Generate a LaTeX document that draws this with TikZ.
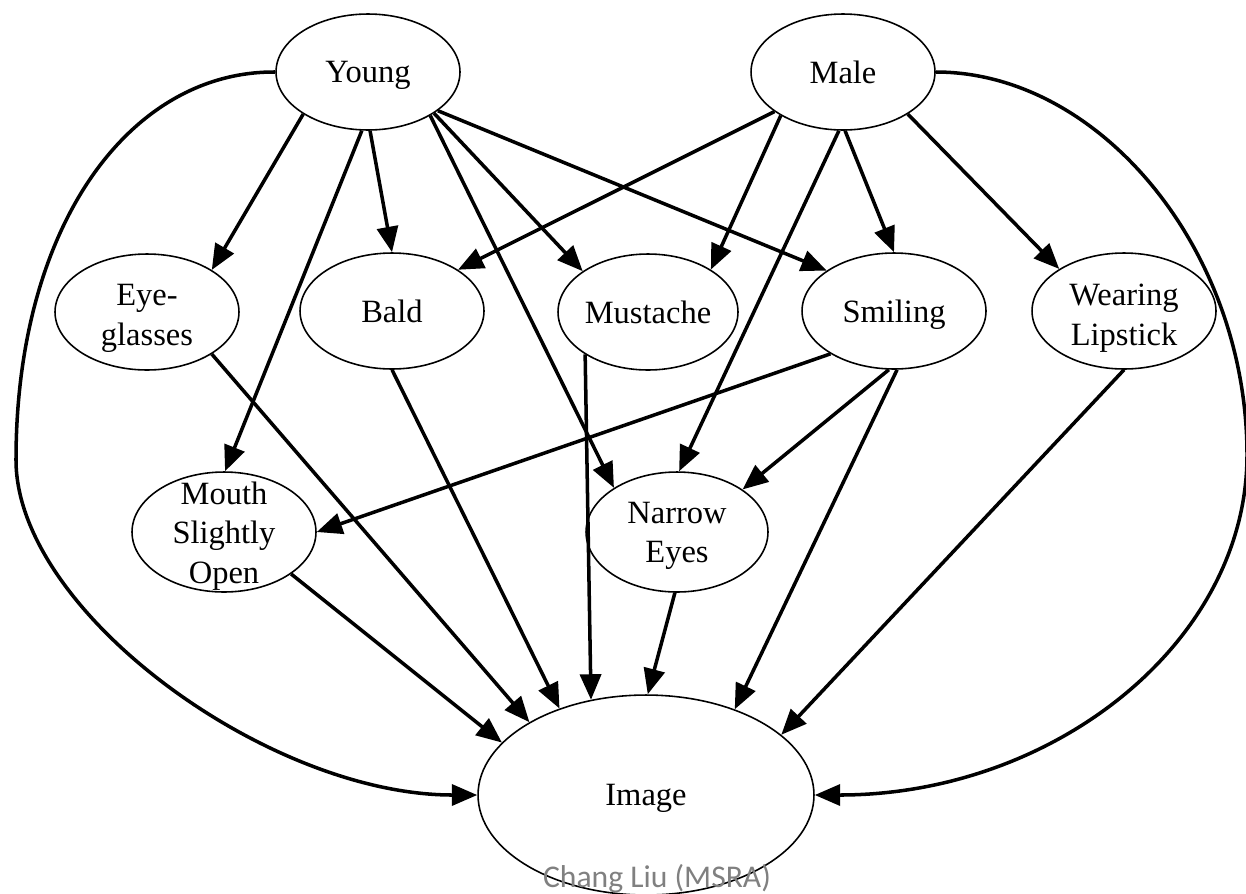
\documentclass[tikz,border=0pt]{standalone}
\usepackage{fontspec}
\setmainfont{Liberation Serif}
\newfontfamily\creditfont{Carlito}
\usetikzlibrary{shapes.geometric,arrows.meta}
\newcommand\nodelines[2]{\smash{\raisebox{#1}{\begin{tabular}{@{}c@{}}#2\end{tabular}}}}
\begin{document}
\begin{tikzpicture}[x=0.02cm,y=-0.02cm,
  attr/.style={ellipse,draw,line width=0.9pt,minimum width=3.68cm,minimum height=2.32cm,
    inner sep=0pt,align=center,font=\fontsize{18.5}{22.5}\selectfont},
  single/.style={text depth=0pt},
  edge/.style={line width=2pt,-{Triangle[length=14.5pt,width=12pt]}}]
\useasboundingbox (0,0) rectangle (1246,893);
\node[attr,single] (young) at (368,72) {Young};
\node[attr,single] (male) at (843,72) {Male};
\node[attr] (eye) at (147,312) {\nodelines{-7.5pt}{Eye-\\glasses}};
\node[attr,single] (bald) at (392,311) {Bald};
\node[attr,single,minimum width=3.6cm] (mustache) at (648,312) {Mustache};
\node[attr,single] (smiling) at (894,311) {Smiling};
\node[attr] (lipstick) at (1124,311) {\nodelines{-8pt}{Wearing\\Lipstick}};
\node[attr,minimum height=2.4cm] (mouth) at (224,532) {\nodelines{-6.5pt}{Mouth\\Slightly\\Open}};
\node[attr,minimum width=3.64cm,minimum height=2.4cm] (narrow) at (677,532) {\nodelines{-6pt}{Narrow\\Eyes}};
\node[attr,single,minimum width=6.72cm,minimum height=4cm] (image) at (646,795) {Image};
\node[anchor=base,inner sep=0pt,font=\creditfont\fontsize{18}{20}\selectfont,text=black!50] (credit) at (657,887) {Chang Liu (MSRA)};
\coordinate (lw) at (16,460);
\coordinate (rw) at (1247,455);
% Young
\draw[edge] (young.213) -- (eye.33);
\draw[edge] (young.264) -- (mouth.89);
\draw[edge] (young.272) -- (bald.90);
\draw[edge] (young.325) -- (narrow.145);
\draw[edge] (young.328) -- (mustache.148);
\draw[edge] (young.331) -- (smiling.149);
\draw[edge] (young.180) .. controls (130,71) and (16,225) .. (lw)
  .. controls (16,611) and (268,795) .. (image.180);
% Male
\draw[edge] (male.210) -- (bald.32);
\draw[edge] (male.215) -- (mustache.34);
\draw[edge] (male.266) -- (narrow.88);
\draw[edge] (male.272) -- (smiling.90);
\draw[edge] (male.327) -- (lipstick.147);
\draw[edge] (male.0) .. controls (1100,72) and (1247,250) .. (rw)
  .. controls (1247,642) and (1054,795) .. (image.0);
% to image
\draw[edge] (eye.327) -- (image.148);
\draw[edge] (bald.270) -- (image.135);
\draw[edge] (mustache.214) -- (image.120);
\draw[edge] (mouth.328) -- (image.160);
\draw[edge] (smiling.214) -- (mouth.0);
\draw[edge] (smiling.265) -- (narrow.33);
\draw[edge] (smiling.273) -- (image.44);
\draw[edge] (narrow.268) -- (image.89);
\draw[edge] (lipstick.270) -- (image.24);
\end{tikzpicture}
\end{document}
